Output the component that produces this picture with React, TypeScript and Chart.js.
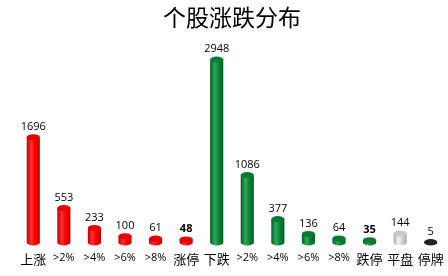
import React, { useEffect, useRef } from "react";
import { Chart, registerables } from "chart.js";

Chart.register(...registerables);

const categories = ["上涨", ">2%", ">4%", ">6%", ">8%", "涨停", "下跌", ">2%", ">4%", ">6%", ">8%", "跌停", "平盘", "停牌"];
const values = [1696, 553, 233, 100, 61, 48, 2948, 1086, 377, 136, 64, 35, 144, 5];
const kinds = ["r", "r", "r", "r", "r", "r", "g", "g", "g", "g", "g", "g", "s", "k"];
const boldLabels = [false, false, false, false, false, true, false, false, false, false, false, true, false, false];
const titleText = "个股涨跌分布";

const palette: Record<string, { dark: string; mid: string; light: string; top: string }> = {
  r: { dark: "#C00000", mid: "#FF0000", light: "#FF3030", top: "#E80000" },
  g: { dark: "#005E22", mid: "#0B8A3C", light: "#2FA85A", top: "#0A7A33" },
  s: { dark: "#A8A8A8", mid: "#D9D9D9", light: "#F4F4F4", top: "#C8C8C8" },
  k: { dark: "#111111", mid: "#333333", light: "#555555", top: "#222222" },
};

const cylinderPlugin = {
  id: "cylinders",
  afterDatasetsDraw(chart: any) {
    const ctx = chart.ctx;
    const meta = chart.getDatasetMeta(0);
    meta.data.forEach((bar: any, i: number) => {
      const { x, y, base, width } = bar.getProps(["x", "y", "base", "width"], true);
      const c = palette[kinds[i]];
      const left = x - width / 2;
      const right = x + width / 2;
      const ry = 3;
      const grad = ctx.createLinearGradient(left, 0, right, 0);
      grad.addColorStop(0, c.dark);
      grad.addColorStop(0.35, c.light);
      grad.addColorStop(0.6, c.mid);
      grad.addColorStop(1, c.dark);
      ctx.save();
      ctx.fillStyle = grad;
      ctx.beginPath();
      ctx.moveTo(left, y);
      ctx.lineTo(left, base);
      ctx.ellipse(x, base, width / 2, ry, 0, Math.PI, 0, true);
      ctx.lineTo(right, y);
      ctx.closePath();
      ctx.fill();
      ctx.fillStyle = c.top;
      ctx.beginPath();
      ctx.ellipse(x, y, width / 2, ry, 0, 0, Math.PI * 2);
      ctx.fill();
      // value label
      ctx.fillStyle = "#000";
      ctx.font = (boldLabels[i] ? "bold " : "") + "11px 'Open Sans', 'DejaVu Sans', sans-serif";
      ctx.textAlign = "center";
      ctx.textBaseline = "bottom";
      ctx.fillText(String(values[i]), x, y - 5);
      ctx.restore();
    });
  },
};

export default function App() {
  const ref = useRef<HTMLCanvasElement>(null);
  useEffect(() => {
    if (!ref.current) return;
    const chart = new Chart(ref.current, {
      type: "bar",
      data: {
        labels: categories,
        datasets: [
          {
            data: values,
            backgroundColor: "rgba(0,0,0,0)",
            borderWidth: 0,
            categoryPercentage: 1,
            barPercentage: 0.43,
          },
        ],
      },
      options: {
        animation: false,
        responsive: false,
        maintainAspectRatio: false,
        layout: { padding: { left: 18, right: 2, top: 0, bottom: 8 } },
        plugins: {
          legend: { display: false },
          tooltip: { enabled: false },
          title: {
            display: true,
            text: titleText,
            color: "#000",
            font: { family: "'Noto Sans CJK SC', sans-serif", size: 23, weight: "normal" },
            padding: { top: 3, bottom: 29 },
          },
        },
        scales: {
          x: {
            grid: { display: false },
            border: { display: false },
            ticks: {
              color: "#000",
              padding: 1,
              maxRotation: 0,
              autoSkip: false,
              font: (ctx: any) => {
                const l = categories[ctx.index] || "";
                return /^[>]/.test(l)
                  ? { family: "'Open Sans', 'DejaVu Sans', sans-serif", size: 11 }
                  : { family: "'Noto Sans CJK SC', sans-serif", size: 13 };
              },
            },
          },
          y: {
            display: false,
            min: 0,
            max: 2948,
          },
        },
      },
      plugins: [cylinderPlugin],
    });
    return () => chart.destroy();
  }, []);
  return (
    <div style={{ position: "fixed", left: 0, top: 0, width: 448, height: 276, background: "#fff" }}>
      <canvas ref={ref} width={448} height={276} style={{ width: 448, height: 276 }} />
    </div>
  );
}
